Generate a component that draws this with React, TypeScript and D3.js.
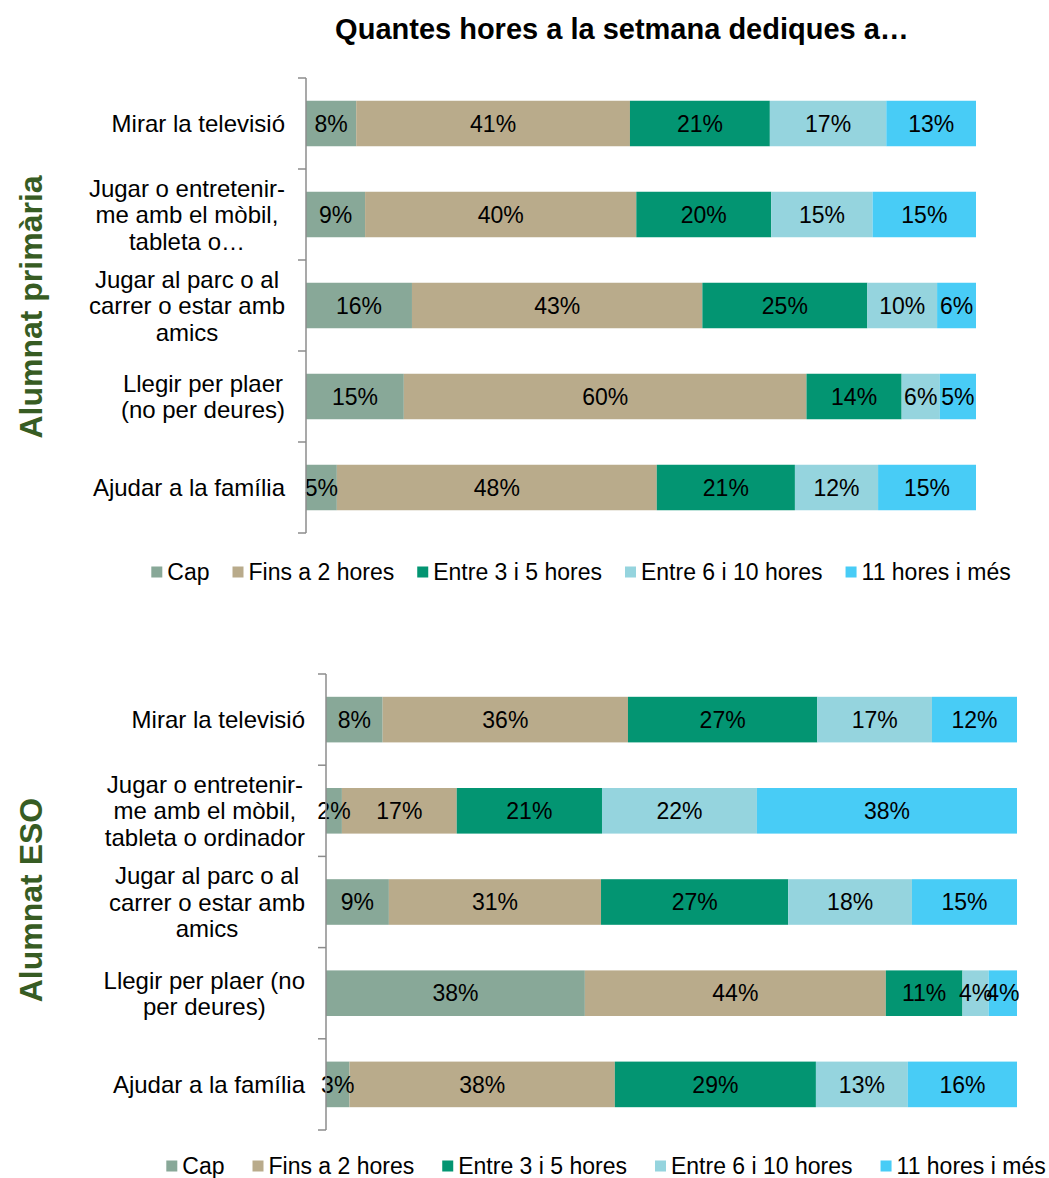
import React from "react";
import * as d3 from "d3";

const WIDTH = 1049;
const HEIGHT = 1178;

const seriesNames = ["Cap", "Fins a 2 hores", "Entre 3 i 5 hores", "Entre 6 i 10 hores", "11 hores i més"];
const colors = ["#88a898", "#b9ab8b", "#039572", "#95d4de", "#48ccf6"];

const primariaLabels = [
  ["Mirar la televisió"],
  ["Jugar o entretenir-", "me amb el mòbil,", "tableta o…"],
  ["Jugar al parc o al", "carrer o estar amb", "amics"],
  ["Llegir per plaer", "(no per deures)"],
  ["Ajudar a la família"],
];
const esoLabels = [
  ["Mirar la televisió"],
  ["Jugar o entretenir-", "me amb el mòbil,", "tableta o ordinador"],
  ["Jugar al parc o al", "carrer o estar amb", "amics"],
  ["Llegir per plaer (no", "per deures)"],
  ["Ajudar a la família"],
];

// percentages (labels are rounded)
const primariaCap = [7.5, 8.8, 15.8, 14.6, 4.6];
const primariaFins2 = [40.9, 40.4, 43.3, 60.1, 47.7];
const primaria3a5 = [20.9, 20.1, 24.6, 14.2, 20.6];
const primaria6a10 = [17.4, 15.1, 10.4, 5.7, 12.4];
const primaria11 = [13.4, 15.4, 5.8, 5.4, 14.6];

const esoCap = [8.2, 2.3, 9.1, 37.5, 3.4];
const esoFins2 = [35.5, 16.6, 30.7, 43.6, 38.4];
const eso3a5 = [27.4, 21.0, 27.1, 11.1, 29.1];
const eso6a10 = [16.6, 22.4, 17.9, 3.8, 13.3];
const eso11 = [12.3, 37.6, 15.2, 4.1, 15.8];

const FONT = "'Liberation Sans', Arial, sans-serif";

let ctx: CanvasRenderingContext2D | null = null;
const textWidth = (text: string, size: number, weight = "normal") => {
  if (!ctx) ctx = document.createElement("canvas").getContext("2d");
  if (!ctx) return text.length * size * 0.5;
  ctx.font = `${weight} ${size}px ${FONT}`;
  return ctx.measureText(text).width;
};

type PanelProps = {
  side: string;
  labels: string[][];
  series: number[][];
  axisX: number;
  right: number;
  top: number;
  bottom: number;
  labelRight: number;
  sideY: number;
  legendY: number;
  legendCx: number;
  legendGap: number;
};

const LABEL_SIZE = 24;
const VALUE_SIZE = 23;
const LEGEND_SIZE = 23;

const Panel = ({
  side,
  labels,
  series,
  axisX,
  right,
  top,
  bottom,
  labelRight,
  sideY,
  legendY,
  legendCx,
  legendGap,
}: PanelProps) => {
  const rows = labels.map((l, i) => {
    const row: Record<string, number | string> = { cat: String(i) };
    seriesNames.forEach((s, j) => (row[s] = series[j][i]));
    return row;
  });
  const stacked = d3
    .stack<Record<string, number | string>>()
    .keys(seriesNames)
    .offset(d3.stackOffsetExpand)(rows as any);

  const y = d3
    .scaleBand()
    .domain(labels.map((_, i) => String(i)))
    .range([top, bottom])
    .paddingInner(0.5)
    .paddingOuter(0.25);
  const x = d3.scaleLinear().domain([0, 1]).range([axisX, right]);
  const step = y.step();

  // legend layout
  const sq = 11;
  const items = seriesNames.map((s) => textWidth(s, LEGEND_SIZE));
  const total = d3.sum(items) + items.length * (sq + 5) + (items.length - 1) * legendGap;
  let lx = legendCx - total / 2;
  const legend = seriesNames.map((s, i) => {
    const pos = lx;
    lx += sq + 5 + items[i] + legendGap;
    return { s, pos, i };
  });

  return (
    <g>
      <text
        transform={`translate(42, ${sideY}) rotate(-90)`}
        textAnchor="middle"
        fontSize={32}
        fontWeight="bold"
        fill="#375c23"
        fontFamily={FONT}
      >
        {side}
      </text>
      {stacked.map((layer, j) => (
        <g key={j}>
          {layer.map((d, i) => (
            <rect
              key={i}
              x={x(d[0])}
              y={y(String(i))}
              width={x(d[1]) - x(d[0])}
              height={y.bandwidth()}
              fill={colors[j]}
            />
          ))}
        </g>
      ))}
      {stacked.map((layer, j) => (
        <g key={"t" + j}>
          {layer.map((d, i) => (
            <text
              key={i}
              x={(x(d[0]) + x(d[1])) / 2}
              y={(y(String(i)) ?? 0) + y.bandwidth() / 2}
              dy="0.36em"
              textAnchor="middle"
              fontSize={VALUE_SIZE}
              fontFamily={FONT}
              fill="#000"
            >
              {Math.round(series[j][i])}%
            </text>
          ))}
        </g>
      ))}
      <line x1={axisX} x2={axisX} y1={top} y2={bottom} stroke="#8c8c8c" strokeWidth={1.5} />
      {d3.range(labels.length + 1).map((k) => (
        <line
          key={k}
          x1={axisX - 8}
          x2={axisX}
          y1={top + k * step}
          y2={top + k * step}
          stroke="#8c8c8c"
          strokeWidth={1.5}
        />
      ))}
      {labels.map((lines, i) => {
        const w = d3.max(lines, (l) => textWidth(l, LABEL_SIZE)) ?? 0;
        const cx = labelRight - w / 2;
        const cy = (y(String(i)) ?? 0) + y.bandwidth() / 2;
        const lh = 26.5;
        return (
          <text key={i} textAnchor="middle" fontSize={LABEL_SIZE} fontFamily={FONT} fill="#000">
            {lines.map((l, k) => (
              <tspan key={k} x={cx} y={cy + (k - (lines.length - 1) / 2) * lh} dy="0.36em">
                {l}
              </tspan>
            ))}
          </text>
        );
      })}
      {legend.map(({ s, pos, i }) => (
        <g key={s}>
          <rect x={pos} y={legendY - sq / 2} width={sq} height={sq} fill={colors[i]} />
          <text x={pos + sq + 5} y={legendY} dy="0.36em" fontSize={LEGEND_SIZE} fontFamily={FONT} fill="#000">
            {s}
          </text>
        </g>
      ))}
    </g>
  );
};

const App = () => {
  return (
    <div style={{ position: "absolute", left: 0, top: 0 }}>
      <svg width={WIDTH} height={HEIGHT} style={{ display: "block", background: "#fff" }}>
        <text
          x={622}
          y={39}
          textAnchor="middle"
          fontSize={29}
          fontWeight="bold"
          fontFamily={FONT}
          fill="#000"
        >
          Quantes hores a la setmana dediques a…
        </text>
        <Panel
          side="Alumnat primària"
          labels={primariaLabels}
          series={[primariaCap, primariaFins2, primaria3a5, primaria6a10, primaria11]}
          axisX={306}
          right={976}
          top={78}
          bottom={533}
          labelRight={285}
          sideY={307}
          legendY={572}
          legendCx={581}
          legendGap={23}
        />
        <Panel
          side="Alumnat ESO"
          labels={esoLabels}
          series={[esoCap, esoFins2, eso3a5, eso6a10, eso11]}
          axisX={326}
          right={1017}
          top={674}
          bottom={1130}
          labelRight={305}
          sideY={900}
          legendY={1166}
          legendCx={606}
          legendGap={28}
        />
      </svg>
    </div>
  );
};

export default App;
